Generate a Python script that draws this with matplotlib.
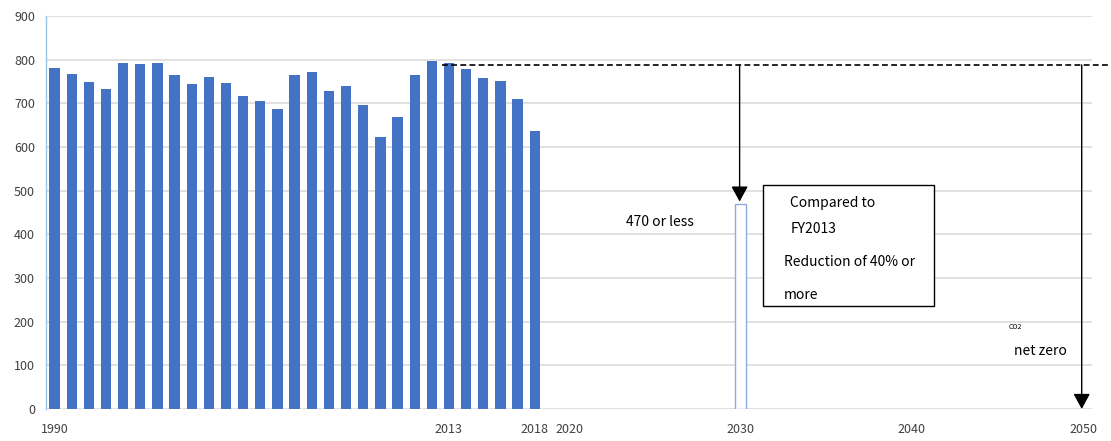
import matplotlib.pyplot as plt

plt.rcParams['font.family'] = ['Noto Sans CJK JP', 'DejaVu Sans']

# CO2 emissions (Mt) by fiscal year
years = list(range(1990, 2019))
emissions = [781, 768, 750, 732, 793, 791, 793, 764, 745, 760,
             746, 717, 705, 688, 765, 771, 729, 739, 696, 622,
             668, 764, 798, 792, 779, 758, 752, 709, 637]

target_year = 2030
target_value = 470
base_level = 788        # FY2013 reference level for the dashed line
zero_year = 2050
zero_value = 0

xticks = [1990, 2013, 2018, 2020, 2030, 2040, 2050]
yticks = list(range(0, 1000, 100))

bar_blue = '#4472C4'
grid_grey = '#dcdcdc'
text_grey = '#404040'

fig = plt.figure(figsize=(11.11, 4.41), dpi=100)
ax = fig.add_axes([46 / 1111, 1 - 409 / 441, (1092 - 46) / 1111, (409 - 16) / 441])

ax.bar(years, emissions, width=0.6, color=bar_blue, zorder=3)
ax.bar([target_year], [target_value], width=0.6, facecolor='white',
       edgecolor='#8faadc', linewidth=1.0, zorder=3)

ax.set_xlim(1989.5, 2050.5)
ax.set_ylim(0, 900)
ax.set_xticks(xticks)
ax.set_yticks(yticks)
ax.tick_params(axis='both', length=0, labelsize=9, colors=text_grey)
ax.tick_params(axis='x', pad=10)
ax.tick_params(axis='y', pad=8)

ax.yaxis.grid(True, color=grid_grey, linewidth=1.2, zorder=0)
ax.set_axisbelow(True)
for side in ['top', 'right', 'bottom']:
    ax.spines[side].set_visible(False)
ax.spines['left'].set_color('#9dc3e6')
ax.spines['left'].set_linewidth(1.0)

# dashed reference line from FY2013 running off the right edge
ax.plot([2012.6, 2051.6], [base_level, base_level], color='black',
        linestyle=(0, (3.5, 2)), linewidth=1.2, clip_on=False, zorder=4)

# arrows down to the 2030 target and to net zero in 2050
arrow_kw = dict(arrowstyle='-|>,head_length=0.55,head_width=0.3', color='black',
                lw=1.0, mutation_scale=17, shrinkA=0, shrinkB=0)
ax.annotate('', xy=(target_year - 0.05, target_value + 5),
            xytext=(target_year - 0.05, base_level), arrowprops=arrow_kw, zorder=5)
ax.annotate('', xy=(zero_year - 0.1, zero_value),
            xytext=(zero_year - 0.1, base_level), arrowprops=arrow_kw, zorder=5)

ax.text(2023.3, 428, f'{target_value} or less', fontsize=10, va='center', ha='left')

box = plt.Rectangle((2031.3, 236), 9.98, 277, facecolor='white',
                    edgecolor='black', linewidth=1.0, zorder=4)
ax.add_patch(box)
ax.text(2032.9, 472, 'Compared to', fontsize=10, va='center', zorder=5)
ax.text(2032.9, 412, 'FY2013', fontsize=10, va='center', zorder=5)
ax.text(2032.55, 337, 'Reduction of 40% or', fontsize=10, va='center', zorder=5)
ax.text(2032.55, 261, 'more', fontsize=10, va='center', zorder=5)

ax.text(2046.05, 188, 'CO2', fontsize=5, ha='center', va='center')
ax.text(2047.5, 133, 'net zero', fontsize=10, ha='center', va='center')

fig.savefig('out.png', dpi=100)
